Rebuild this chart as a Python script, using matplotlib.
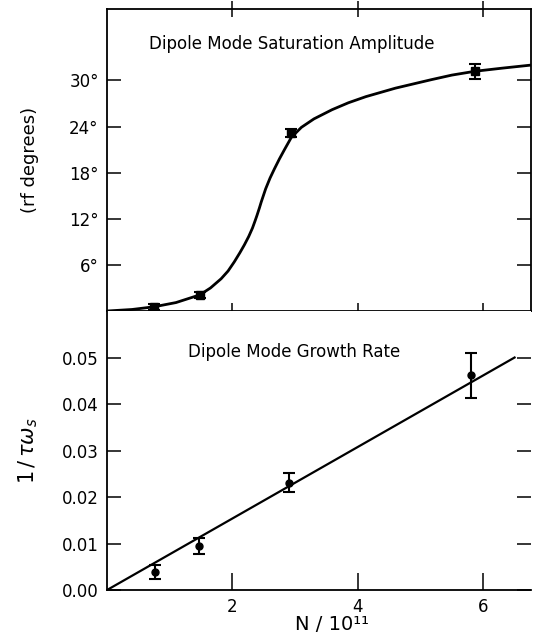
import matplotlib
matplotlib.use("Agg")
import matplotlib.pyplot as plt

# saturation amplitude (rf degrees) vs N/10^11
amp_n = [0.75, 1.48, 2.94, 5.87]
amp_deg = [0.5, 2.1, 23.2, 31.2]
amp_err = [0.4, 0.4, 0.5, 1.0]

# hand-drawn fit curve through the amplitude points
curve_n = [0.0, 0.4, 0.75, 1.1, 1.48, 1.65, 1.82, 1.93, 2.03, 2.12, 2.19, 2.26,
           2.32, 2.36, 2.39, 2.43, 2.46, 2.53, 2.6, 2.67, 2.75, 2.83, 2.94,
           3.1, 3.3, 3.59, 3.85, 4.13, 4.6, 5.17, 5.5, 5.87, 6.3, 6.76]
curve_deg = [0.0, 0.2, 0.55, 1.1, 2.1, 3.0, 4.2, 5.2, 6.4, 7.6, 8.6, 9.7,
             10.8, 11.7, 12.4, 13.4, 14.2, 15.9, 17.3, 18.5, 19.8, 21.0, 22.6,
             23.9, 25.0, 26.2, 27.1, 27.9, 29.0, 30.1, 30.7, 31.2, 31.6, 32.0]

# growth rate 1/(tau omega_s) vs N/10^11
rate_n = [0.76, 1.46, 2.90, 5.81]
rate = [0.0039, 0.0095, 0.0231, 0.0462]
rate_err = [0.0015, 0.0017, 0.0021, 0.0048]

# straight-line fit
fit_n = [0.0, 6.5]
fit_rate = [0.0, 0.050]

x_ticks = [2, 4, 6]
deg_ticks = [6, 12, 18, 24, 30]
rate_ticks = [0.00, 0.01, 0.02, 0.03, 0.04, 0.05]


def style_axes(ax):
    for s in ax.spines.values():
        s.set_linewidth(1.3)
    ax.tick_params(axis="both", which="major", width=1.1, length=10,
                   labelsize=12)


def main():
    plt.rcParams["font.family"] = ["DejaVu Sans"]
    plt.rcParams["mathtext.fontset"] = "dejavusans"
    fig = plt.figure(figsize=(5.33, 6.43), dpi=100)

    ax1 = fig.add_axes([0.2008, 0.5163, 0.7952, 0.4697])
    ax2 = fig.add_axes([0.2008, 0.0824, 0.7952, 0.4339])

    # top panel
    ax1.plot(curve_n, curve_deg, color="black", lw=2.0)
    ax1.errorbar(amp_n, amp_deg, yerr=amp_err, fmt="s", color="black",
                 ms=5.5, capsize=4, elinewidth=1.5, capthick=1.5)
    ax1.set_xlim(0, 6.76)
    ax1.set_ylim(0, 39.3)
    ax1.set_xticks(x_ticks)
    ax1.set_xticklabels([])
    ax1.set_yticks(deg_ticks)
    ax1.set_yticklabels([f"{d}\u00b0" for d in deg_ticks])
    style_axes(ax1)
    ax1.tick_params(axis="x", direction="inout", top=True, length=12)
    ax1.tick_params(axis="y", direction="in", right=True, pad=6)
    ax1.text(0.437, 0.885, "Dipole Mode Saturation Amplitude",
             transform=ax1.transAxes, ha="center", va="center", fontsize=12)
    ax1.set_ylabel("(rf degrees)", fontsize=13, labelpad=22)

    # bottom panel
    ax2.plot(fit_n, fit_rate, color="black", lw=1.6)
    ax2.errorbar(rate_n, rate, yerr=rate_err, fmt="o", color="black",
                 ms=5, capsize=4, elinewidth=1.5, capthick=1.5)
    ax2.set_xlim(0, 6.76)
    ax2.set_ylim(0, 0.06)
    ax2.set_xticks(x_ticks)
    ax2.set_yticks(rate_ticks)
    ax2.set_yticklabels([f"{v:.2f}" for v in rate_ticks])
    style_axes(ax2)
    ax2.spines["top"].set_visible(False)
    ax2.spines["right"].set_visible(False)
    ax2.tick_params(axis="x", direction="in", length=12, pad=6)
    ax2.tick_params(axis="y", direction="in", right=True, pad=6)
    ax2.text(0.441, 0.853, "Dipole Mode Growth Rate",
             transform=ax2.transAxes, ha="center", va="center", fontsize=12)
    ax2.set_ylabel(r"$1\,/\,\tau\omega_s$", fontsize=15, labelpad=16)
    ax2.set_xlabel("N / 10\u00b9\u00b9", fontsize=14, va="center")
    ax2.xaxis.set_label_coords(0.53, -0.125)

    fig.savefig("out.png", dpi=100)


if __name__ == "__main__":
    main()
